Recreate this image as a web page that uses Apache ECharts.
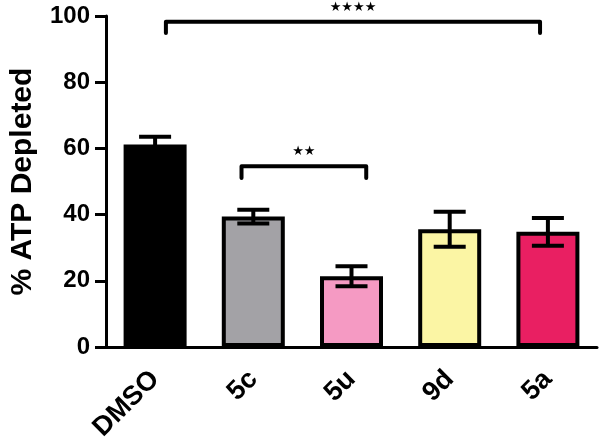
<!DOCTYPE html>
<html>
<head>
<meta charset="utf-8">
<script src="https://cdn.jsdelivr.net/npm/echarts@6/dist/echarts.min.js"></script>
<style>html,body{margin:0;padding:0;background:#fff;}#c{width:600px;height:444px;}</style>
</head>
<body>
<div id="c"></div>
<script>
var categories = ['DMSO', '5c', '5u', '9d', '5a'];
var meanValues = [61.2, 39.4, 21.4, 35.6, 34.8];
var errValues = [2.3, 2.1, 3.0, 5.3, 4.2];
var barColors = ['#000000', '#a3a2a6', '#f59ac3', '#fbf5a4', '#e91f62'];
var yTicks = [0, 20, 40, 60, 80, 100];
// significance brackets: [fromIndex, toIndex, lineY, tipY, label]
var brackets = [
  [0, 4, 98.3, 94.9, '★★★★'],
  [1, 2, 54.6, 51.1, '★★']
];
// horizontal offsets of bracket ends, in fractions of a category band
var bracketOffsets = [[0.11, -0.08], [-0.12, 0.15]];

var FONT = 'Liberation Sans';
var chart = echarts.init(document.getElementById('c'));
chart.setOption({
  animation: false,
  grid: {left: 99, right: 3, top: 16, bottom: 96},
  xAxis: {
    type: 'category',
    data: categories,
    axisLine: {lineStyle: {color: '#000', width: 3}},
    axisTick: {alignWithLabel: true, length: 12, lineStyle: {color: '#000', width: 3}},
    axisLabel: {rotate: 45, fontFamily: FONT, fontWeight: 'bold', fontSize: 27, color: '#000', margin: 28, interval: 0}
  },
  yAxis: {
    type: 'value', min: yTicks[0], max: yTicks[yTicks.length - 1], interval: 20,
    name: '% ATP Depleted', nameLocation: 'middle', nameGap: 68,
    nameTextStyle: {fontFamily: FONT, fontWeight: 'bold', fontSize: 30, color: '#000'},
    axisLine: {show: true, lineStyle: {color: '#000', width: 3}},
    axisTick: {show: true, length: 11, lineStyle: {color: '#000', width: 3}},
    splitLine: {show: false},
    axisLabel: {fontFamily: FONT, fontWeight: 'bold', fontSize: 24, color: '#000', margin: 16}
  },
  series: [
    {
      type: 'bar',
      barWidth: 63,
      data: meanValues.map(function (v, i) {
        return {value: v, itemStyle: {color: barColors[i], borderColor: '#000', borderWidth: 4}};
      }),
      z: 2
    },
    {
      type: 'custom',
      z: 3,
      data: meanValues.map(function (v, i) { return [i, v - errValues[i], v + errValues[i]]; }),
      renderItem: function (params, api) {
        var lo = api.coord([api.value(0), api.value(1)]);
        var hi = api.coord([api.value(0), api.value(2)]);
        var hw = 16;
        var st = {stroke: '#000', lineWidth: 4};
        return {type: 'group', children: [
          {type: 'line', shape: {x1: hi[0], y1: hi[1], x2: lo[0], y2: lo[1]}, style: st},
          {type: 'line', shape: {x1: hi[0] - hw, y1: hi[1], x2: hi[0] + hw, y2: hi[1]}, style: st},
          {type: 'line', shape: {x1: lo[0] - hw, y1: lo[1], x2: lo[0] + hw, y2: lo[1]}, style: st}
        ]};
      }
    },
    {
      type: 'custom',
      z: 4,
      data: brackets.map(function (b) { return [b[0], b[1], b[2], b[3]]; }),
      renderItem: function (params, api) {
        var b = brackets[params.dataIndex];
        var off = bracketOffsets[params.dataIndex];
        var band = api.size([1, 0])[0];
        var a = api.coord([api.value(0), api.value(2)]);
        var c = api.coord([api.value(1), api.value(2)]);
        var tipY = api.coord([api.value(0), api.value(3)])[1];
        var x1 = a[0] + off[0] * band, x2 = c[0] + off[1] * band, y = a[1];
        return {type: 'group', children: [
          {type: 'polyline', shape: {points: [[x1, tipY], [x1, y], [x2, y], [x2, tipY]]},
           style: {stroke: '#000', lineWidth: 4, fill: null, lineJoin: 'round', lineCap: 'round'}},
          {type: 'text', x: (x1 + x2) / 2, y: y - 8,
           style: {text: b[4], fontSize: 13, fill: '#000', align: 'center', verticalAlign: 'bottom', fontFamily: 'DejaVu Sans'}}
        ]};
      }
    }
  ]
});
</script>
</body>
</html>
